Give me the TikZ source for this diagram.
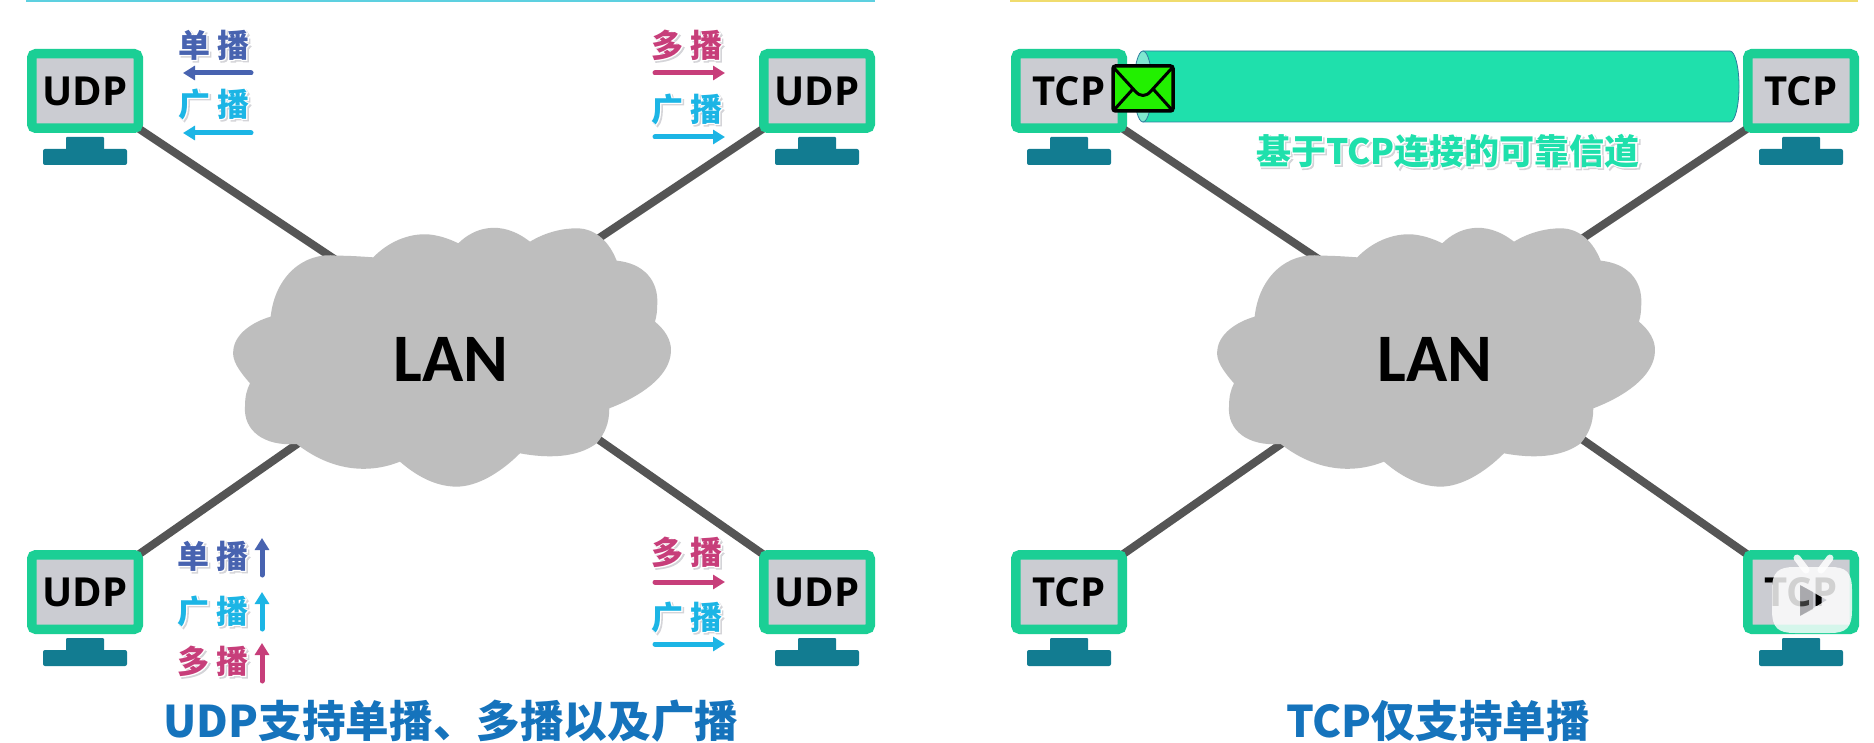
\documentclass[tikz,border=0pt]{standalone}
\usepackage{fontspec}
\usetikzlibrary{arrows.meta,backgrounds}
\setmainfont{Noto Sans CJK SC}
\newfontfamily\cjkplain{Noto Sans CJK SC}
\newfontfamily\cjkhaloraw{Noto Sans CJK SC}[BoldFeatures={FakeBold=5}]
\newcommand{\cjkbold}{\cjkplain\bfseries}
\newcommand{\cjkhalo}{\cjkhaloraw\bfseries}
\newfontfamily\monofontb{Open Sans}
\newfontfamily\lanfont{Carlito}
\definecolor{framecol}{HTML}{1BCF95}
\definecolor{screencol}{HTML}{CBCCD2}
\definecolor{standcol}{HTML}{127C91}
\definecolor{linkcol}{HTML}{555555}
\definecolor{cloudcol}{HTML}{BEBEBE}
\definecolor{unicol}{HTML}{4863B0}
\definecolor{broadcol}{HTML}{1CB5E5}
\definecolor{multicol}{HTML}{C73E7A}
\definecolor{titlecol}{HTML}{1573BC}
\definecolor{tubecol}{HTML}{1FE0AC}
\definecolor{tubeedge}{HTML}{2F7F9F}
\definecolor{capcol}{HTML}{7FE8D0}
\definecolor{mailcol}{HTML}{22F000}
\definecolor{halogray}{HTML}{D4D4D8}
\definecolor{ruleyellow}{HTML}{F0DC6E}
\definecolor{rulecyan}{HTML}{5DD0E0}
\newcommand{\halo}[2]{\leavevmode\rlap{\raisebox{-1.5pt}{\kern1.5pt\textcolor{halogray}{\cjkhalo #2}}}\rlap{\textcolor{white}{\cjkhalo #2}}\textcolor{#1}{\cjkbold #2}}
\tikzset{
  monitorbox/.style={draw=framecol,fill=screencol,line width=9.5pt,rounded corners=4pt,minimum width=106.5pt,minimum height=74.5pt,inner sep=0pt,outer sep=0pt,font=\monofontb\bfseries\fontsize{40}{40}\selectfont,text=black},
  linkline/.style={draw=linkcol,line width=8pt},
  lantext/.style={font=\lanfont\bfseries\fontsize{68}{68}\selectfont,inner sep=0pt,text=black},
  castlabel/.style={font=\fontsize{32}{32}\selectfont,inner sep=0pt},
  castarrow/.style={line width=5pt,line cap=round,-{Triangle[length=12pt,width=14pt]}},
  titletext/.style={font=\cjkbold\fontsize{43.6}{44}\selectfont,text=titlecol,inner sep=0pt},
}
\newcommand{\drawmonitor}[4]{%
  \fill[standcol,rounded corners=1pt] (#2+39,#3+88) rectangle (#2+77,#3+102);
  \fill[standcol,rounded corners=2pt] (#2+16,#3+100) rectangle (#2+100,#3+116);
  \node[monitorbox] (#1) at (#2+58,#3+42) {#4};
}
\newcommand{\drawcloud}[1]{%
  \begin{scope}[shift={(#1,220)},x=0.3333pt,y=-0.3333pt]
  \fill[cloudcol] (212,290) .. controls (225,170) and (310,95) .. (410,107)
   .. controls (450,107) and (490,110) .. (520,112)
   .. controls (570,60) and (640,35) .. (700,45) .. controls (730,50) and (755,60) .. (775,70)
   .. controls (820,25) and (900,-5) .. (990,65)
   .. controls (1040,35) and (1090,25) .. (1130,25) .. controls (1190,25) and (1230,70) .. (1250,122)
   .. controls (1330,130) and (1375,180) .. (1372,250) .. controls (1372,270) and (1370,290) .. (1365,305)
   .. controls (1395,330) and (1415,360) .. (1413,395) .. controls (1410,470) and (1320,530) .. (1228,565)
   .. controls (1228,610) and (1215,640) .. (1190,670) .. controls (1130,715) and (1040,715) .. (960,700)
   .. controls (900,760) and (830,800) .. (770,800) .. controls (700,800) and (640,760) .. (600,725)
   .. controls (500,765) and (390,750) .. (290,672)
   .. controls (190,680) and (130,630) .. (135,560) .. controls (135,530) and (140,510) .. (150,490)
   .. controls (115,450) and (95,420) .. (100,390) .. controls (105,340) and (160,305) .. (212,290) -- cycle;
  \end{scope}
}
\begin{document}
\begin{tikzpicture}[x=1pt,y=-1pt]
\useasboundingbox (0,0) rectangle (1874,743);
% top rules
\fill[rulecyan] (26,0) rectangle (875,2);
\fill[ruleyellow] (1010,0) rectangle (1858,2);

% clouds
\drawcloud{200}
\drawcloud{1184}
\node[lantext] (lanL) at (451,359) {LAN};
\node[lantext] (lanR) at (1435,359) {LAN};

% monitors
\drawmonitor{ua}{27}{49}{UDP}
\drawmonitor{ub}{759}{49}{UDP}
\drawmonitor{uc}{27}{550}{UDP}
\drawmonitor{ud}{759}{550}{UDP}
\drawmonitor{ta}{1011}{49}{TCP}
\drawmonitor{tb}{1743}{49}{TCP}
\drawmonitor{tc}{1011}{550}{TCP}
\drawmonitor{td}{1743}{550}{TCP}

% links behind
\begin{pgfonlayer}{background}
\fill[white] (0,0) rectangle (1874,743);
\draw[linkline] (ua.south east) -- (lanL.north);
\draw[linkline] (ub.south west) -- (lanL.north);
\draw[linkline] (uc.north east) -- (lanL.north);
\draw[linkline] (ud.north west) -- (lanL.north);
\draw[linkline] (ta.south east) -- (lanR.north);
\draw[linkline] (tb.south west) -- (lanR.north);
\draw[linkline] (tc.north east) -- (lanR.north);
\draw[linkline] (td.north west) -- (lanR.north);
\end{pgfonlayer}

% left labels
\node[castlabel] (l1) at (214,46) {\halo{unicol}{单\kern7pt播}};
\coordinate (l1a) at (251,73); \coordinate (l1b) at (183,73);
\draw[castarrow,unicol] (l1a) -- (l1b);
\node[castlabel] (l2) at (214,105) {\halo{broadcol}{广\kern7pt播}};
\coordinate (l2a) at (251,133); \coordinate (l2b) at (183,133);
\draw[castarrow,broadcol] (l2a) -- (l2b);

\node[castlabel] (r1) at (687,46) {\halo{multicol}{多\kern7pt播}};
\coordinate (r1a) at (655,73); \coordinate (r1b) at (725,73);
\draw[castarrow,multicol] (r1a) -- (r1b);
\node[castlabel] (r2) at (687,110) {\halo{broadcol}{广\kern7pt播}};
\coordinate (r2a) at (655,137); \coordinate (r2b) at (725,137);
\draw[castarrow,broadcol] (r2a) -- (r2b);

\node[castlabel] (b1) at (213,557) {\halo{unicol}{单\kern7pt播}};
\coordinate (b1a) at (262,575); \coordinate (b1b) at (262,538);
\draw[castarrow,unicol] (b1a) -- (b1b);
\node[castlabel] (b2) at (213,612) {\halo{broadcol}{广\kern7pt播}};
\coordinate (b2a) at (262,629); \coordinate (b2b) at (262,592);
\draw[castarrow,broadcol] (b2a) -- (b2b);
\node[castlabel] (b3) at (213,662) {\halo{multicol}{多\kern7pt播}};
\coordinate (b3a) at (262,681); \coordinate (b3b) at (262,643);
\draw[castarrow,multicol] (b3a) -- (b3b);

\node[castlabel] (d1) at (687,553) {\halo{multicol}{多\kern7pt播}};
\coordinate (d1a) at (655,582); \coordinate (d1b) at (725,582);
\draw[castarrow,multicol] (d1a) -- (d1b);
\node[castlabel] (d2) at (687,618) {\halo{broadcol}{广\kern7pt播}};
\coordinate (d2a) at (655,644); \coordinate (d2b) at (725,644);
\draw[castarrow,broadcol] (d2a) -- (d2b);

% tube
\draw[fill=tubecol,draw=tubeedge,line width=0.8pt]
  (1143,51) -- (1730,51) .. controls (1735,51) and (1739,67) .. (1739,86.5)
  .. controls (1739,106) and (1735,122) .. (1730,122) -- (1143,122) -- cycle;
\draw[fill=capcol,draw=tubeedge,line width=0.8pt] (1143,86.5) ellipse[x radius=9,y radius=35.5];

% envelope
\draw[fill=mailcol,draw=black,line width=3.5pt,rounded corners=2.5pt] (1113,66) rectangle (1173,111);
\draw[black,line width=3pt,line cap=round,line join=round]
  (1114,68) -- (1135,91) .. controls (1140,97) and (1146,97) .. (1151,91) -- (1172,68);
\draw[black,line width=3pt,line cap=round] (1114,110) -- (1132,90);
\draw[black,line width=3pt,line cap=round] (1172,110) -- (1154,90);

\node[font=\fontsize{35}{35}\selectfont,inner sep=0pt] (chan) at (1448,152) {\halo{tubecol}{基于TCP连接的可靠信道}};

% titles
\node[titletext] (titleL) at (451,721) {UDP支持单播、多播以及广播};
\node[titletext] (titleR) at (1438,721) {TCP仅支持单播};

% watermark
\draw[white,opacity=0.85,line width=7pt,line cap=round] (1797,558) -- (1806,570);
\draw[white,opacity=0.85,line width=7pt,line cap=round] (1830,558) -- (1821,570);
\fill[white,opacity=0.82,even odd rule]
  (1772,590) .. controls (1772,572) and (1778,567) .. (1795,567) -- (1830,567)
  .. controls (1846,567) and (1852,572) .. (1852,590) -- (1852,610)
  .. controls (1852,628) and (1846,633) .. (1830,633) -- (1795,633)
  .. controls (1778,633) and (1772,628) .. (1772,610) -- cycle
  (1800,585) -- (1827,600) -- (1800,616) -- cycle;
\fill[gray,opacity=0.45] (1800,585) -- (1813,592) -- (1813,609) -- (1800,616) -- cycle;
\end{tikzpicture}
\end{document}
